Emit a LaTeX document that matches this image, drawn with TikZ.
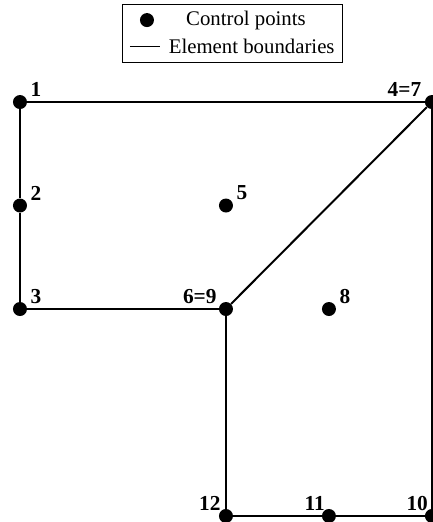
\documentclass[tikz,border=0pt]{standalone}
\usepackage{fontspec}
\setmainfont{Liberation Serif}
\begin{document}
\begin{tikzpicture}[x=77.25pt, y=77.625pt,
  ctrl/.style={circle,fill=black,inner sep=0pt,minimum size=10.5pt,label distance=3.5pt},
  lbl/.style={font=\fontsize{16}{19}\selectfont\bfseries,inner sep=0pt},
  bound/.style={line width=1.5pt},
  legtext/.style={font=\fontsize{15.6}{18}\selectfont,inner sep=0pt}]
\useasboundingbox (-0.194,-0.058) rectangle (4.010,4.986);
% legend
\node[draw,line width=0.75pt,minimum width=165pt,minimum height=42.8pt] (legend) at (2.068,4.662) {};
\node[ctrl] (ldot) at (1.233,4.792) {};
\node[legtext] (lctrl) at (2.194,4.792) {Control points};
\coordinate (la) at (1.068,4.541);
\coordinate (lb) at (1.359,4.541);
\draw[line width=0.75pt] (la) -- (lb);
\node[legtext] (lbound) at (2.25,4.541) {Element boundaries};
% control points
\node[ctrl,label={[lbl,xshift=4pt]above right:1}] (p1) at (0,4) {};
\node[ctrl,label={[lbl,xshift=4pt]above right:2}] (p2) at (0,3) {};
\node[ctrl,label={[lbl,xshift=4pt]above right:3}] (p3) at (0,2) {};
\node[ctrl,label={[lbl,xshift=-4pt]above left:4=7}] (p4) at (4,4) {};
\node[ctrl,label={[lbl,xshift=4pt]above right:5}] (p5) at (2,3) {};
\node[ctrl,label={[lbl,xshift=-3pt]above left:6=9}] (p6) at (2,2) {};
\node[ctrl,label={[lbl,xshift=4pt]above right:8}] (p8) at (3,2) {};
\node[ctrl,label={[lbl,xshift=1pt]above left:10}] (p10) at (4,0) {};
\node[ctrl,label={[lbl,xshift=1pt]above left:11}] (p11) at (3,0) {};
\node[ctrl,label={[lbl]above left:12}] (p12) at (2,0) {};
% element boundaries
\draw[bound] (p1) -- (p4);
\draw[bound] (p1) -- (p2) -- (p3);
\draw[bound] (p3) -- (p6);
\draw[bound] (p6) -- (p4);
\draw[bound] (p6) -- (p12);
\draw[bound] (p12) -- (p11) -- (p10);
\draw[bound] (p10) -- (p4);
\end{tikzpicture}
\end{document}
